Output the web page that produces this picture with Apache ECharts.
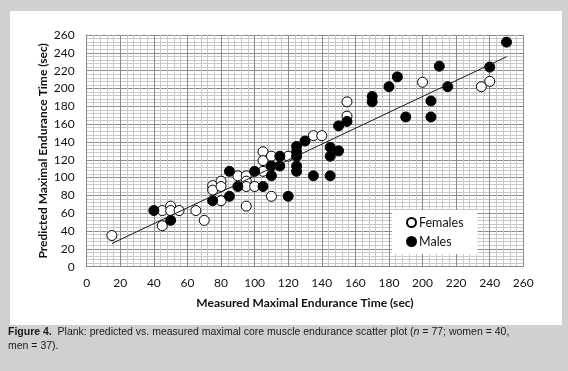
<!DOCTYPE html>
<html>
<head>
<meta charset="utf-8">
<script src="https://cdn.jsdelivr.net/npm/echarts@6/dist/echarts.min.js"></script>
<style>
html,body{margin:0;padding:0;background:#d0d0d0;}
#chart{width:568px;height:371px;}
</style>
</head>
<body>
<div id="chart"></div>
<script>
// Females (open circles): measured, predicted
const femalesX = [15, 45, 45, 50, 50, 55, 65, 70, 75, 75, 80, 80, 80, 90, 95, 95, 95, 95, 100, 105, 105, 105, 110, 110, 120, 135, 140, 155, 155, 200, 235, 240];
const femalesY = [35, 46, 63, 68, 63, 63, 63, 52, 91, 86, 96, 90, 74, 102, 102, 96, 90, 68, 90, 129, 119, 107, 124, 79, 124, 147, 147, 185, 169, 207, 202, 208];
// Males (filled circles)
const malesX = [40, 50, 75, 85, 85, 90, 100, 105, 110, 110, 115, 115, 120, 125, 125, 125, 125, 125, 130, 135, 145, 145, 145, 150, 150, 155, 170, 170, 180, 185, 190, 205, 205, 210, 215, 240, 250];
const malesY = [63, 52, 74, 107, 79, 90, 107, 90, 113, 102, 124, 113, 79, 135, 129, 124, 113, 107, 141, 102, 134, 124, 102, 158, 130, 163, 191, 185, 202, 213, 168, 186, 168, 225, 202, 224, 252];
// Trend line end points
const trendX = [15, 250];
const trendY = [26, 235.6];
const xTicks = [0, 20, 40, 60, 80, 100, 120, 140, 160, 180, 200, 220, 240, 260];
const yTicks = [0, 20, 40, 60, 80, 100, 120, 140, 160, 180, 200, 220, 240, 260];
const legendNames = ['Females', 'Males'];

const zip = (a, b) => a.map((v, i) => [v, b[i]]);
const chart = echarts.init(document.getElementById('chart'), null, {renderer: 'canvas'});
const font = 'Lato, "Open Sans", sans-serif';
const capFont = 'Liberation Sans, Arial, sans-serif';
const majorColor = '#8a8a8a';
const minorColor = '#c8c8c8';

chart.setOption({
  backgroundColor: '#d0d0d0',
  animation: false,
  graphic: [
    {type: 'rect', z: -10, silent: true, shape: {x: 10, y: 11, width: 552, height: 314}, style: {fill: '#ffffff'}},
    {type: 'text', left: 8, top: 327, silent: true, style: {
      rich: {
        b: {fontFamily: capFont, fontSize: 10.5, fontWeight: 'bold', fill: '#1a1a1a', lineHeight: 14},
        t: {fontFamily: capFont, fontSize: 10.5, fill: '#1a1a1a', lineHeight: 14},
        i: {fontFamily: capFont, fontSize: 10.5, fontStyle: 'italic', fill: '#1a1a1a', lineHeight: 14}
      },
      text: '{b|Figure 4.}{t|  Plank: predicted vs. measured maximal core muscle endurance scatter plot (}{i|n}{t| = 77; women = 40,}\n{t|men = 37).}'
    }}
  ],
  grid: {left: 86.7, right: 44.7, top: 35, bottom: 104.3, containLabel: false},
  legend: {
    data: legendNames,
    orient: 'vertical',
    left: 392, top: 210,
    backgroundColor: '#ffffff',
    padding: [6, 14, 6, 14],
    itemGap: 6,
    itemWidth: 9, itemHeight: 9,
    textStyle: {fontFamily: font, fontSize: 12.5, color: '#111', padding: [0, 0, 0, -2]}
  },
  xAxis: {
    type: 'value', min: xTicks[0], max: xTicks[xTicks.length - 1], interval: 20,
    name: 'Measured Maximal Endurance Time (sec)', nameLocation: 'middle', nameGap: 30,
    nameMoveOverlap: false,
    nameTextStyle: {fontFamily: font, fontSize: 12, fontWeight: 'bold', color: '#111'},
    axisLine: {show: true, onZero: false, lineStyle: {color: majorColor, width: 1}},
    axisTick: {show: false},
    axisLabel: {fontFamily: font, fontSize: 12, color: '#111', margin: 10},
    splitLine: {show: true, lineStyle: {color: majorColor, width: 1}},
    minorTick: {show: false, splitNumber: 5},
    minorSplitLine: {show: true, lineStyle: {color: minorColor, width: 1}}
  },
  yAxis: {
    type: 'value', min: yTicks[0], max: yTicks[yTicks.length - 1], interval: 20,
    name: 'Predicted Maximal Endurance Time (sec)', nameLocation: 'middle', nameGap: 38,
    nameMoveOverlap: false,
    nameTextStyle: {fontFamily: font, fontSize: 12, fontWeight: 'bold', color: '#111'},
    axisLine: {show: true, onZero: false, lineStyle: {color: majorColor, width: 1}},
    axisTick: {show: false},
    axisLabel: {fontFamily: font, fontSize: 12, color: '#111', margin: 12},
    splitLine: {show: true, lineStyle: {color: majorColor, width: 1}},
    minorTick: {show: false, splitNumber: 5},
    minorSplitLine: {show: true, lineStyle: {color: minorColor, width: 1}}
  },
  series: [
    {name: 'Females', type: 'scatter', symbol: 'circle', symbolSize: 10, z: 3,
     data: zip(femalesX, femalesY),
     itemStyle: {color: '#ffffff', borderColor: '#000000', borderWidth: 1, opacity: 1}},
    {name: 'Males', type: 'scatter', symbol: 'circle', symbolSize: 10, z: 4,
     data: zip(malesX, malesY),
     itemStyle: {color: '#000000', borderColor: '#000000', borderWidth: 1, opacity: 1}},
    {name: 'Trend', type: 'line', z: 5, symbol: 'none', silent: true,
     data: zip(trendX, trendY),
     lineStyle: {color: '#1a1a1a', width: 1}}
  ]
});
</script>
</body>
</html>
